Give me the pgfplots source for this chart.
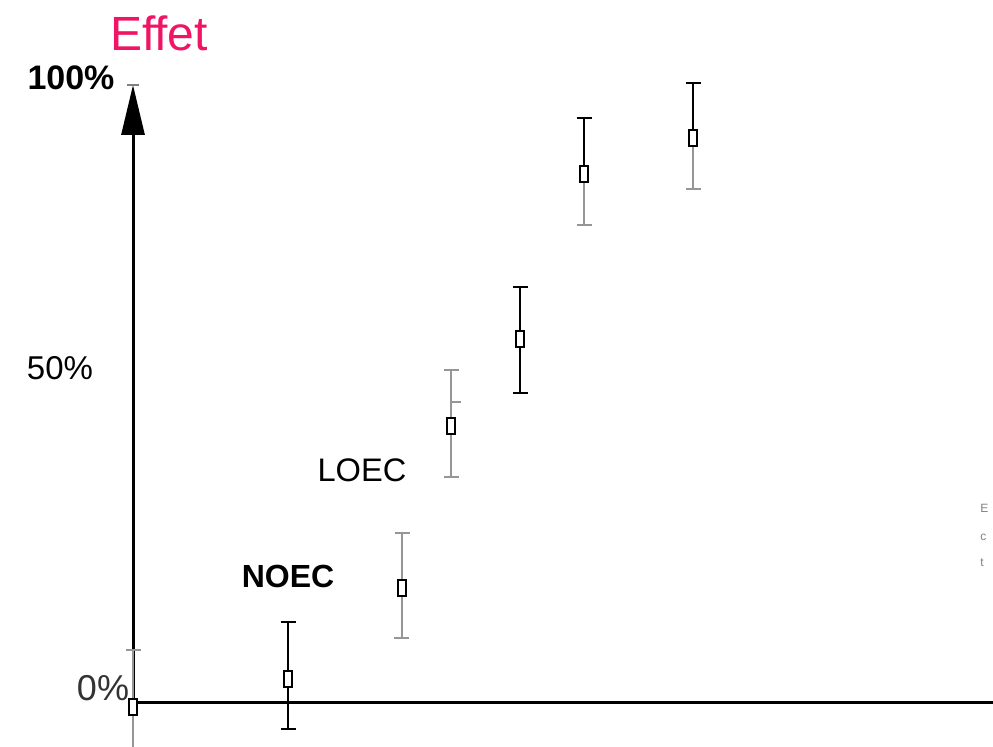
\documentclass[border=0pt]{standalone}
\usepackage{pgfplots}
\pgfplotsset{compat=1.18}
\usepackage{fontspec}
\setmainfont{Liberation Sans}
\usetikzlibrary{arrows.meta}
\definecolor{effet}{RGB}{240,20,100}
\definecolor{bargray}{RGB}{150,150,150}
\pgfplotsset{
  graybar/.style={draw=none, mark=none,
    error bars/.cd, y dir=#1, y explicit,
    error bar style={bargray, line width=1.3pt},
    error mark options={rotate=90, bargray, line width=1.2pt, mark size=3.75pt}},
  blackbar/.style={draw=none, mark=none,
    error bars/.cd, y dir=#1, y explicit,
    error bar style={black, line width=1pt},
    error mark options={rotate=90, black, line width=1pt, mark size=3.75pt}},
}
\begin{document}
\begin{tikzpicture}
\begin{axis}[
  width=496.5pt, height=373.5pt, scale only axis,
  xmin=-133, xmax=860, ymin=-44, ymax=703,
  axis lines=none, ticks=none,
]
% axes
\draw[line width=1.5pt] (axis cs:0,0) -- (axis cs:860,0);
\draw[line width=0.8pt, bargray] (axis cs:0,-44) -- (axis cs:0,0);
\draw[line width=1.5pt, -{Triangle[length=25pt,width=11.5pt]}] (axis cs:0,0) -- (axis cs:0,618);
\draw[line width=0.8pt, gray] (axis cs:-6,618) -- (axis cs:6,618);
% gray error bars
\addplot[graybar=both]
  table[x=x, y=y, y error plus=ep, y error minus=em] {
x y ep em
0 -4 57 57
269 115 55 50
318 277 56 51
};
\addplot[graybar=minus]
  table[x=x, y=y, y error plus=ep, y error minus=em] {
x y ep em
451 529 0 51
560 565 0 51
};
% black error bars
\addplot[blackbar=both]
  table[x=x, y=y, y error plus=ep, y error minus=em] {
x y ep em
155 24 57 50
387 364 52 54
};
\addplot[blackbar=plus]
  table[x=x, y=y, y error plus=ep, y error minus=em] {
x y ep em
451 529 56 0
560 565 55 0
};
\draw[bargray, line width=1.2pt] (axis cs:318,301) -- (axis cs:328,301);
% boxes
\addplot[only marks, mark=square*, mark size=4pt,
  mark options={fill=white, draw=black, line width=1pt, xscale=0.56}]
  table {
x y
0 -4
155 24
269 115
318 277
387 364
451 529
560 565
};
\node[effet, font=\fontsize{24}{28}\selectfont] at (axis cs:26,670) {Effet};
\node[font=\bfseries\fontsize{17}{20}\selectfont] at (axis cs:-62,625) {100\%};
\node[font=\fontsize{16.5}{20}\selectfont] at (axis cs:-73,335) {50\%};
\node[font=\fontsize{18}{20}\selectfont, black!80] at (axis cs:-30,15) {0\%};
\node[font=\bfseries\fontsize{16}{20}\selectfont] at (axis cs:155,126) {NOEC};
\node[font=\fontsize{16.3}{20}\selectfont] at (axis cs:229,233) {LOEC};
\node[anchor=west, gray, font=\fontsize{6}{7}\selectfont, inner sep=0pt] at (axis cs:847,195) {E};
\node[anchor=west, gray, font=\fontsize{6}{7}\selectfont, inner sep=0pt] at (axis cs:847,166) {c};
\node[anchor=west, gray, font=\fontsize{6}{7}\selectfont, inner sep=0pt] at (axis cs:847,140) {t};
\coordinate (BL) at (rel axis cs:0,0);
\coordinate (TR) at (rel axis cs:1,1);
\end{axis}
\pgfresetboundingbox
\path (BL) rectangle (TR);
\end{tikzpicture}
\end{document}
